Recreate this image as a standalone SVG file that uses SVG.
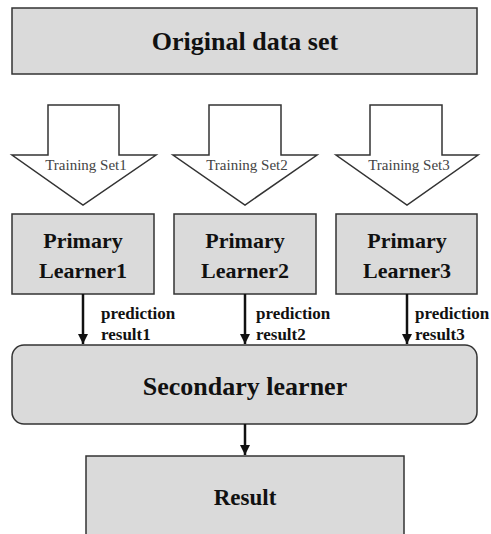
<svg xmlns="http://www.w3.org/2000/svg" width="491" height="534" viewBox="0 0 491 534">
<defs>
<style>
.box{fill:#dadada;stroke:#333;stroke-width:1.5}
.big{font-family:"Liberation Serif",serif;font-weight:bold;font-size:26px;fill:#111;text-anchor:middle}
.mid{font-family:"Liberation Serif",serif;font-weight:bold;font-size:22px;fill:#111;text-anchor:middle}
.lbl{font-family:"Liberation Serif",serif;font-weight:bold;font-size:17px;fill:#111}
.ts{font-family:"Liberation Serif",serif;font-size:15px;fill:#444;text-anchor:middle}
.bigarrow{fill:#fff;stroke:#333;stroke-width:1.5;stroke-linejoin:miter}
.conn{stroke:#111;stroke-width:2.5;fill:none}
</style>
<marker id="ah" viewBox="0 0 10 10" refX="10" refY="5" markerWidth="4" markerHeight="4" orient="auto" markerUnits="strokeWidth">
<path d="M0,0 L10,5 L0,10 z" fill="#111"/>
</marker>
</defs>
<rect width="491" height="534" fill="#fff"/>
<g id="original">
<rect class="box" x="12" y="8" width="465" height="66"/>
<text class="big" x="245" y="50">Original data set</text>
</g>
<g id="ts1">
<path class="bigarrow" d="M48,105 H119 V155 H156 L83,205 L12,155 H48 Z"/>
<text class="ts" x="86" y="170">Training Set1</text>
</g>
<g id="ts2">
<path class="bigarrow" d="M209,105 H281 V155 H317 L245,205 L173,155 H209 Z"/>
<text class="ts" x="247" y="170">Training Set2</text>
</g>
<g id="ts3">
<path class="bigarrow" d="M370,105 H442 V155 H478 L407,205 L336,155 H370 Z"/>
<text class="ts" x="409" y="170">Training Set3</text>
</g>
<g id="pl1">
<rect class="box" x="12" y="214" width="142" height="80"/>
<text class="mid" x="83" y="248">Primary</text>
<text class="mid" x="83" y="278">Learner1</text>
</g>
<g id="pl2">
<rect class="box" x="174" y="214" width="142" height="80"/>
<text class="mid" x="245" y="248">Primary</text>
<text class="mid" x="245" y="278">Learner2</text>
</g>
<g id="pl3">
<rect class="box" x="336" y="214" width="141" height="80"/>
<text class="mid" x="407" y="248">Primary</text>
<text class="mid" x="407" y="278">Learner3</text>
</g>
<g id="secondary">
<rect class="box" x="12" y="345" width="465" height="79" rx="12" ry="12"/>
<text class="big" x="245" y="395">Secondary learner</text>
</g>
<g id="result">
<rect class="box" x="86" y="456" width="318" height="90"/>
<text class="mid" x="245" y="505" style="font-size:23px">Result</text>
</g>
<g id="connectors">
<line class="conn" x1="83" y1="294" x2="83" y2="344" marker-end="url(#ah)"/>
<line class="conn" x1="245" y1="294" x2="245" y2="344" marker-end="url(#ah)"/>
<line class="conn" x1="407" y1="294" x2="407" y2="344" marker-end="url(#ah)"/>
<line class="conn" x1="245" y1="424" x2="245" y2="455" marker-end="url(#ah)"/>
<text class="lbl" x="101" y="319">prediction</text>
<text class="lbl" x="101" y="340">result1</text>
<text class="lbl" x="256" y="319">prediction</text>
<text class="lbl" x="256" y="340">result2</text>
<text class="lbl" x="415" y="319">prediction</text>
<text class="lbl" x="415" y="340">result3</text>
</g>
</svg>
